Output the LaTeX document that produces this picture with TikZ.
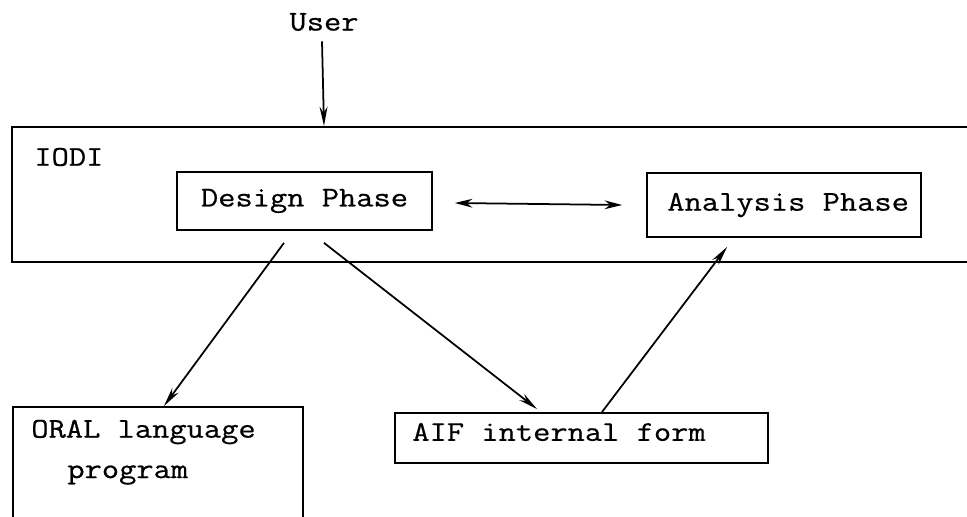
\documentclass[tikz,border=0pt]{standalone}
\usepackage{fontspec}
\setmonofont{Latin Modern Mono}[FakeStretch=1.17,FakeBold=0.6]
\usetikzlibrary{arrows.meta,calc}
\begin{document}
\begin{tikzpicture}[x=0.02cm,y=-0.02cm,
  every node/.style={font=\ttfamily\fontsize{16.3}{20}\selectfont},
  box/.style={draw,line width=1pt,inner sep=0pt},
  lbl/.style={inner sep=0pt},
  conn/.style={line width=1pt,-{Stealth[length=11pt,width=4.5pt]}},
  dconn/.style={line width=1pt,{Stealth[length=10pt,width=5pt]}-{Stealth[length=10pt,width=5pt]}}]
\useasboundingbox (0,0) rectangle (967,517);
\clip (0,0) rectangle (967,517);
% User
\node[lbl] (user) at (324,22) {User};
% IODI outer box
\node[box,anchor=north west,minimum width=19.6cm,minimum height=2.7cm] (iodi) at (11,126) {};
\node[lbl,anchor=west] (iodilbl) at (34,157) {IODI};
% phases
\node[box,minimum width=5.1cm,minimum height=1.16cm] (design) at (304.5,201) {Design Phase};
\node[box,minimum width=5.48cm,minimum height=1.28cm] (analysis) at (784,205) {};
\node[lbl,anchor=west] (analysislbl) at (667,205) {Analysis Phase};
% lower boxes
\node[box,anchor=north west,minimum width=5.8cm,minimum height=2.4cm] (oral) at (12,406) {};
\node[lbl,anchor=west] (oral1) at (31,432) {ORAL language};
\node[lbl,anchor=west] (oral2) at (67,475) {program};
\node[box,anchor=north west,minimum width=7.46cm,minimum height=1.0cm] (aif) at (394,412) {};
\node[lbl,anchor=west] (aiflbl) at (412,432) {AIF internal form};
% connectors
\draw[conn] ($(user.south)+(-2,10)$) -- (user.south |- iodi.north);
\draw[dconn] ($(design.east)+(22,2)$) -- ($(analysis.west)+(-24,0)$);
\draw[conn] ($(design.south)+(-20.5,12)$) -- ($(oral.north west)+(152,0)$);
\draw[conn] ($(design.south)+(19.5,12)$) -- ($(aif.north west)+(143,-3)$);
\draw[conn] ($(aif.north west)+(208,0)$) -- ($(analysis.south west)+(81,9)$);
\end{tikzpicture}
\end{document}
